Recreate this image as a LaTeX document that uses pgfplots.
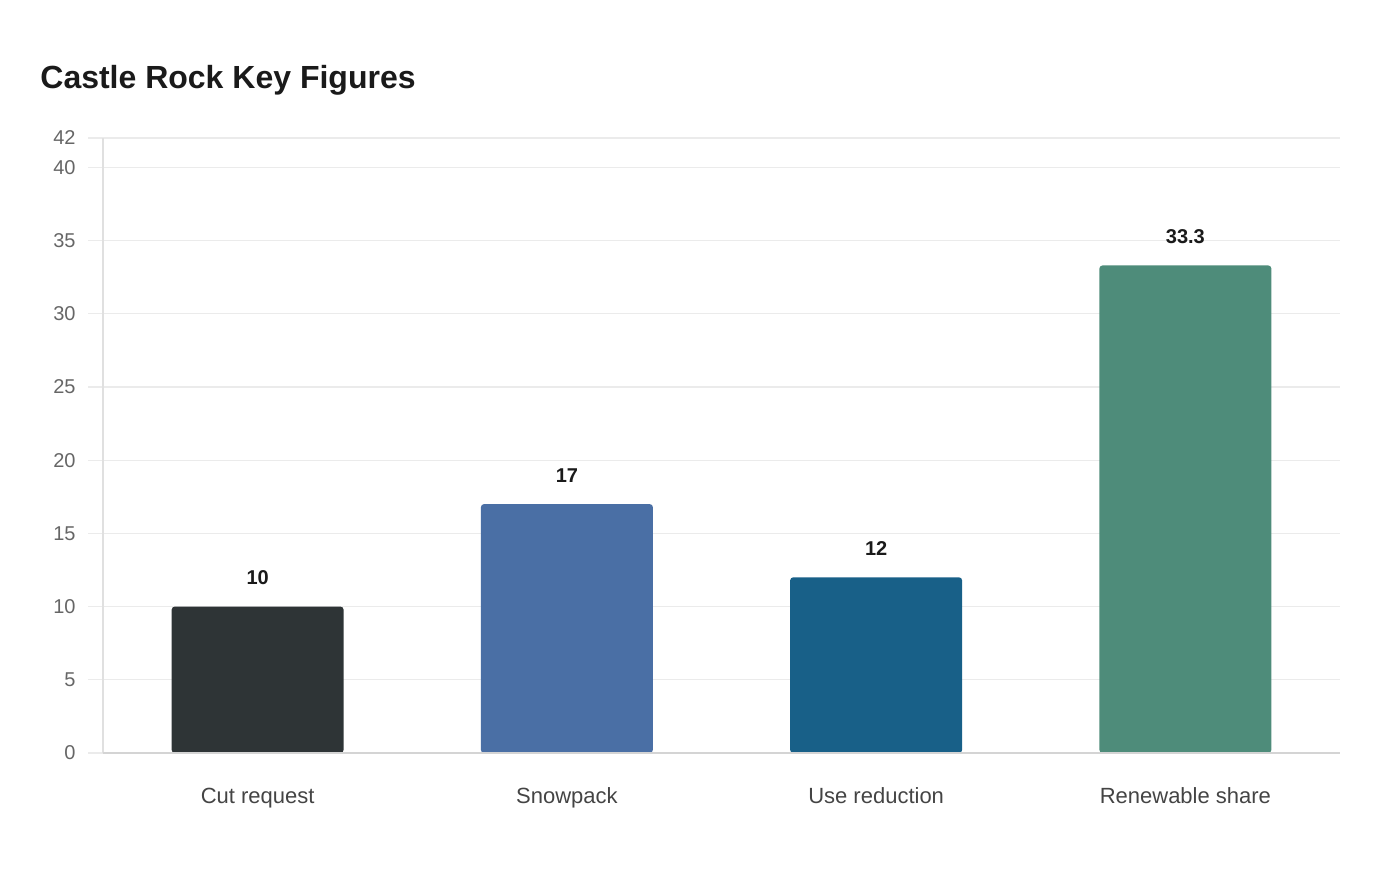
\documentclass[border=0pt]{standalone}
\usepackage{fontspec}
\setmainfont{Liberation Sans}
\usepackage{pgfplots}
\pgfplotsset{compat=1.18}

\definecolor{barA}{HTML}{2E3436}
\definecolor{barB}{HTML}{4A6FA5}
\definecolor{barC}{HTML}{186088}
\definecolor{barD}{HTML}{4E8C7A}
\definecolor{gridc}{HTML}{EBEBEB}
\definecolor{yaxisc}{HTML}{E0E0E0}
\definecolor{xaxisc}{HTML}{D4D4D4}
\definecolor{ticklab}{HTML}{666666}
\definecolor{catlab}{HTML}{444444}
\definecolor{titlec}{HTML}{1A1A1A}

\begin{document}
\begin{tikzpicture}[x=0.5pt,y=0.5pt]
\coordinate (O) at (103,127);
\node[anchor=base west, inner sep=0, text=titlec, font=\fontsize{16}{19}\selectfont\bfseries] at (40,791) {Castle Rock Key Figures};
\begin{axis}[
  at={(O)}, anchor=south west,
  scale only axis,
  width=618.5pt, height=307.5pt,
  xmin=-0.5, xmax=3.5,
  ymin=0, ymax=42,
  axis x line=bottom, axis y line=left,
  axis line style={-},
  x axis line style={draw=none},
  y axis line style={draw=yaxisc, line width=0.6pt},
  ytick={0,5,10,15,20,25,30,35,40,42},
  xtick={0,1,2,3},
  xticklabels={Cut request, Snowpack, Use reduction, Renewable share},
  major x tick style={draw=none},
  ytick style={draw=gridc, line width=0.6pt},
  tick align=outside,
  major tick length=7.5pt,
  ymajorgrids,
  grid style={gridc, line width=0.6pt},
  /pgf/number format/assume math mode=true,
  yticklabel style={font=\fontsize{10}{12}\selectfont, text=ticklab, inner sep=0pt, xshift=-6pt},
  xticklabel style={font=\fontsize{11}{13}\selectfont, text=catlab, inner sep=0pt,
    text height=0.72em, text depth=0.21em, yshift=-10.5pt},
  ybar, bar width=86pt, bar shift=0pt,
  nodes near coords,
  nodes near coords style={font=\fontsize{10}{12}\selectfont\bfseries, text=titlec, inner sep=0pt, anchor=south, yshift=10.5pt},
  point meta=explicit symbolic,
  clip=false,
]
\addplot[fill=barA, draw=none, rounded corners=1.6pt] coordinates {(0,10) [10]};
\addplot[fill=barB, draw=none, rounded corners=1.6pt] coordinates {(1,17) [17]};
\addplot[fill=barC, draw=none, rounded corners=1.6pt] coordinates {(2,12) [12]};
\addplot[fill=barD, draw=none, rounded corners=1.6pt] coordinates {(3,33.3) [33.3]};
% baseline drawn over the bar feet
\draw[xaxisc, line width=1pt] (rel axis cs:0,0) -- (rel axis cs:1,0);
\end{axis}
% page frame: 1400 x 880 units
\pgfresetboundingbox
\path[use as bounding box] (0,0) rectangle (1400,880);
\end{tikzpicture}
\end{document}
